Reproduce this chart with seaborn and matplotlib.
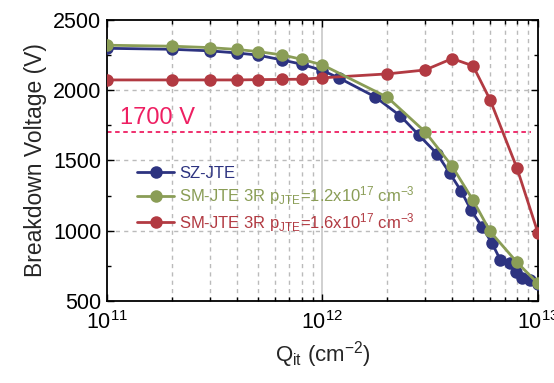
import numpy as np
import pandas as pd
import matplotlib
matplotlib.use("Agg")
import matplotlib.pyplot as plt
import seaborn as sns
from matplotlib.ticker import LogLocator, MultipleLocator, FixedLocator

# Datos
qit_sz = [1e11, 2e11, 3e11, 4e11, 5e11, 6.5e11, 8e11, 1e12, 1.2e12, 1.75e12,
          2.3e12, 2.8e12, 3.4e12, 3.9e12, 4.4e12, 4.9e12, 5.5e12, 6.1e12,
          6.7e12, 7.4e12, 7.9e12, 8.4e12, 9.2e12, 1e13]
bv_sz = [2298, 2291, 2280, 2265, 2250, 2215, 2185, 2140, 2085, 1954,
         1817, 1681, 1548, 1409, 1283, 1145, 1029, 915,
         792, 768, 709, 662, 650, 620]

qit_sm = [1e11, 2e11, 3e11, 4e11, 5e11, 6.5e11, 8e11, 1e12, 2e12, 3e12,
          4e12, 5e12, 6e12, 8e12, 1e13]
bv_sm12 = [2320, 2313, 2303, 2290, 2275, 2251, 2220, 2180, 1950, 1703,
           1458, 1217, 995, 775, 625]
bv_sm16 = [2073, 2073, 2073, 2073, 2075, 2077, 2078, 2088, 2116, 2144,
           2225, 2173, 1931, 1444, 985]

etiquetas = ["SZ-JTE",
             r"SM-JTE 3R p$_\mathregular{JTE}$=1.2x10$^\mathregular{17}$ cm$^\mathregular{-3}$",
             r"SM-JTE 3R p$_\mathregular{JTE}$=1.6x10$^\mathregular{17}$ cm$^\mathregular{-3}$"]
colores = ["#2D3380", "#8A9D56", "#B23A42"]
limite = 1700

sns.set_theme(style="ticks")
plt.rcParams['font.family'] = ['Liberation Sans', 'DejaVu Sans']
plt.rcParams['mathtext.fontset'] = 'custom'
plt.rcParams['mathtext.rm'] = 'Liberation Sans'
plt.rcParams['mathtext.it'] = 'Liberation Sans:italic'
plt.rcParams['mathtext.bf'] = 'Liberation Sans:bold'

fig = plt.figure(figsize=(5.54, 3.83), dpi=100)
ax = fig.add_axes([0.193, 0.214, 0.778, 0.734])

ax.set_xscale('log')
ax.set_xlim(1e11, 1e13)
ax.set_ylim(500, 2500)

# Rejilla
for dec in [1e11, 1e12]:
    for m in range(2, 10):
        ax.axvline(m * dec, color='#BBBBBB', ls=(0, (3, 3)), lw=1.0, zorder=0)
ax.axvline(1e12, color='#C8C8C8', ls='-', lw=1.2, zorder=0)
for yv in [1000, 1500, 2000]:
    ax.axhline(yv, color='#BBBBBB', ls=(0, (3, 3)), lw=1.0, zorder=0)

ax.axhline(limite, xmax=0.985, color='#EE1F62', ls=(0, (2.5, 2)), lw=1.3, zorder=1)
ax.text(1.15e11, limite + 25, f"{limite} V", color='#EE1F62', fontsize=17,
        ha='left', va='bottom')

orden = [(qit_sz, bv_sz, 0), (qit_sm, bv_sm16, 2), (qit_sm, bv_sm12, 1)]
for xs, ys, i in orden:
    df = pd.DataFrame({'q': xs, 'bv': ys})
    sns.lineplot(data=df, x='q', y='bv', ax=ax, color=colores[i], marker='o',
                 markersize=9, markeredgewidth=0, lw=2.0, sort=False,
                 label=etiquetas[i], zorder=3)

handles, labels = ax.get_legend_handles_labels()
idx = [labels.index(e) for e in etiquetas]
leg = ax.legend([handles[k] for k in idx], [labels[k] for k in idx],
                loc='upper left', bbox_to_anchor=(0.055, 0.505), frameon=False,
                fontsize=12, handlelength=2.2, handletextpad=0.3,
                labelspacing=0.22, borderaxespad=0)
for t, c in zip(leg.get_texts(), colores):
    t.set_color(c)

ax.set_xlabel(r"Q$_\mathregular{it}$ (cm$^\mathregular{-2}$)", fontsize=16, labelpad=4)
ax.set_ylabel("Breakdown Voltage (V)", fontsize=16.5, labelpad=4)

ax.xaxis.set_major_locator(FixedLocator([1e11, 1e12, 1e13]))
ax.xaxis.set_minor_locator(LogLocator(base=10, subs=np.arange(2, 10), numticks=20))
ax.yaxis.set_major_locator(MultipleLocator(500))
ax.yaxis.set_minor_locator(MultipleLocator(250))
ax.set_xticklabels([r"10$^\mathregular{11}$", r"10$^\mathregular{12}$", r"10$^\mathregular{13}$"])

ax.tick_params(which='both', direction='in', top=True, right=True, colors='black',
               labelsize=15.5, width=1.0)
ax.tick_params(which='major', length=5)
ax.tick_params(which='minor', length=3)
ax.tick_params(axis='x', pad=7)
ax.tick_params(axis='y', pad=4)
for s in ax.spines.values():
    s.set_color('black')
    s.set_linewidth(1.3)

fig.savefig("out.png", dpi=100, facecolor='white')
plt.close(fig)
